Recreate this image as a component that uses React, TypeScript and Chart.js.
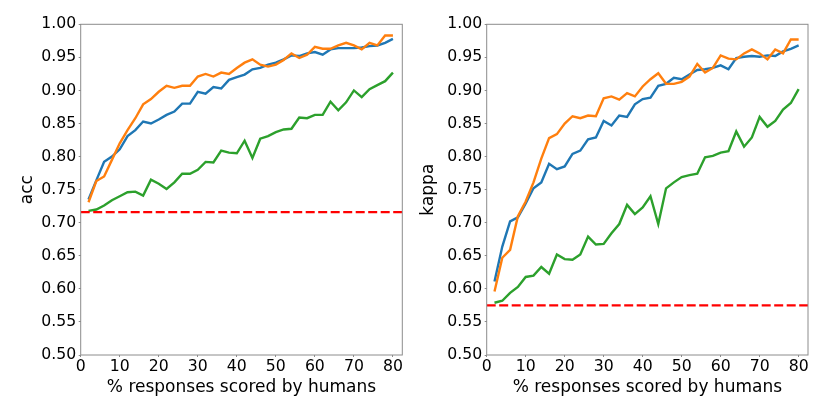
import { useEffect, useRef } from "react"
import { Chart, registerables } from "chart.js"

Chart.register(...registerables)

// % of responses scored by humans
const xValues = [
  2, 4, 6, 8, 10, 12, 14, 16, 18, 20, 22, 24, 26, 28, 30, 32, 34, 36, 38, 40,
  42, 44, 46, 48, 50, 52, 54, 56, 58, 60, 62, 64, 66, 68, 70, 72, 74, 76, 78, 80,
]
const xTicks = [0, 10, 20, 30, 40, 50, 60, 70, 80]

const accBlue = [
  0.735, 0.764, 0.792, 0.8, 0.811, 0.831, 0.84, 0.853, 0.85, 0.856, 0.863, 0.868, 0.88, 0.88, 0.898, 0.895, 0.905, 0.903, 0.916, 0.92,
  0.924, 0.932, 0.934, 0.939, 0.942, 0.947, 0.953, 0.952, 0.956, 0.958, 0.954, 0.962, 0.964, 0.964, 0.964, 0.965, 0.967, 0.968, 0.972, 0.978,
]
const accOrange = [
  0.731, 0.763, 0.77, 0.795, 0.82, 0.84, 0.858, 0.879, 0.887, 0.898, 0.907, 0.904, 0.907, 0.907, 0.921, 0.925, 0.921, 0.927, 0.925, 0.934,
  0.942, 0.947, 0.939, 0.936, 0.939, 0.946, 0.956, 0.949, 0.954, 0.966, 0.963, 0.963, 0.968, 0.972, 0.968, 0.962, 0.972, 0.968, 0.983, 0.983,
]
const accGreen = [
  0.718, 0.72, 0.726, 0.734, 0.74, 0.746, 0.747, 0.741, 0.765, 0.759, 0.751, 0.761, 0.774, 0.774, 0.78, 0.792, 0.791, 0.809, 0.806, 0.805,
  0.824, 0.798, 0.827, 0.831, 0.837, 0.841, 0.842, 0.859, 0.858, 0.863, 0.863, 0.883, 0.87, 0.882, 0.9, 0.89, 0.902, 0.908, 0.914, 0.927,
]
const accBaseline = 0.716

const kappaBlue = [
  0.611, 0.664, 0.702, 0.708, 0.729, 0.752, 0.761, 0.789, 0.781, 0.785, 0.804, 0.809, 0.826, 0.829, 0.854, 0.847, 0.862, 0.86, 0.879, 0.887,
  0.889, 0.907, 0.91, 0.919, 0.917, 0.924, 0.931, 0.932, 0.934, 0.938, 0.932, 0.949, 0.951, 0.952, 0.951, 0.953, 0.952, 0.959, 0.963, 0.968,
]
const kappaOrange = [
  0.596, 0.647, 0.659, 0.71, 0.732, 0.761, 0.797, 0.828, 0.834, 0.85, 0.861, 0.858, 0.862, 0.861, 0.888, 0.891, 0.886, 0.896, 0.891, 0.906,
  0.917, 0.926, 0.91, 0.91, 0.913, 0.921, 0.94, 0.927, 0.934, 0.953, 0.948, 0.947, 0.956, 0.962, 0.956, 0.947, 0.962, 0.956, 0.977, 0.977,
]
const kappaGreen = [
  0.579, 0.582, 0.594, 0.603, 0.618, 0.62, 0.633, 0.623, 0.652, 0.645, 0.644, 0.652, 0.679, 0.667, 0.668, 0.684, 0.698, 0.727, 0.713, 0.723,
  0.74, 0.698, 0.752, 0.761, 0.769, 0.772, 0.774, 0.799, 0.801, 0.806, 0.808, 0.838, 0.815, 0.829, 0.86, 0.845, 0.854, 0.871, 0.881, 0.902,
]
const kappaBaseline = 0.575

const X_MIN = 0
const X_MAX = 82.4
const Y_MIN = 0.5
const Y_MAX = 1.0
const FONT = "'DejaVu Sans', sans-serif"

// matplotlib-style box around the plot area
const framePlugin = {
  id: "frame",
  afterDatasetsDraw(chart: Chart) {
    const { ctx, chartArea } = chart
    ctx.save()
    ctx.strokeStyle = "#8c8c8c"
    ctx.lineWidth = 1
    ctx.strokeRect(chartArea.left, chartArea.top, chartArea.right - chartArea.left, chartArea.bottom - chartArea.top)
    ctx.restore()
  },
}

interface PanelProps {
  yLabel: string
  blue: number[]
  orange: number[]
  green: number[]
  baseline: number
  padLeft: number
  padRight: number
  yAxisWidth: number
}

function Panel({ yLabel, blue, orange, green, baseline, padLeft, padRight, yAxisWidth }: PanelProps) {
  const chartRef = useRef<HTMLCanvasElement>(null)
  const chartInstance = useRef<Chart | null>(null)

  useEffect(() => {
    if (!chartRef.current) return
    const ctx = chartRef.current.getContext("2d")
    if (!ctx) return

    const toPoints = (vals: number[]) => vals.map((y, i) => ({ x: xValues[i], y }))
    const line = (data: { x: number; y: number }[], color: string, order: number) => ({
      data,
      borderColor: color,
      backgroundColor: color,
      borderWidth: 2.4,
      pointRadius: 0,
      tension: 0,
      fill: false,
      order,
    })

    chartInstance.current = new Chart(ctx, {
      type: "line",
      data: {
        datasets: [
          line(toPoints(blue), "#1f77b4", 4),
          line(toPoints(orange), "#ff7f0e", 3),
          line(toPoints(green), "#2ca02c", 2),
          {
            ...line(
              [
                { x: X_MIN, y: baseline },
                { x: X_MAX, y: baseline },
              ],
              "#ff0000",
              1,
            ),
            borderDash: [9, 3.5],
          },
        ],
      },
      plugins: [framePlugin],
      options: {
        animation: false,
        responsive: true,
        maintainAspectRatio: false,
        layout: { padding: { left: padLeft, right: padRight, top: 24.3, bottom: 17.1 } },
        plugins: { legend: { display: false }, tooltip: { enabled: false } },
        scales: {
          x: {
            type: "linear",
            min: X_MIN,
            max: X_MAX,
            border: { display: false },
            grid: { display: true, drawOnChartArea: false, drawTicks: true, tickLength: 2, color: "#8c8c8c" },
            ticks: { autoSkip: false, maxRotation: 0, padding: 1, color: "#000", font: { family: FONT, size: 15.7 } },
            afterBuildTicks: (scale: any) => {
              scale.ticks = xTicks.map((value) => ({ value }))
            },
            afterFit: (scale: any) => {
              scale.height = 42.9
            },
            title: {
              display: true,
              text: "% responses scored by humans",
              color: "#000",
              padding: 0,
              font: { family: FONT, size: 17 },
            },
          },
          y: {
            min: Y_MIN,
            max: Y_MAX,
            border: { display: false },
            grid: { display: true, drawOnChartArea: false, drawTicks: true, tickLength: 2, color: "#8c8c8c" },
            ticks: {
              stepSize: 0.05,
              padding: 2.5,
              color: "#000",
              font: { family: FONT, size: 15.7 },
              callback: (v: any) => Number(v).toFixed(2),
            },
            afterFit: (scale: any) => {
              scale.width = yAxisWidth
            },
            title: {
              display: true,
              text: yLabel,
              color: "#000",
              padding: 0,
              font: { family: FONT, size: 17 },
            },
          },
        },
      },
    })

    return () => {
      if (chartInstance.current) {
        chartInstance.current.destroy()
        chartInstance.current = null
      }
    }
  }, [yLabel, blue, orange, green, baseline, padLeft, padRight, yAxisWidth])

  return (
    <div style={{ width: 415, height: 415, position: "relative" }}>
      <canvas ref={chartRef}></canvas>
    </div>
  )
}

export default function App() {
  return (
    <div style={{ position: "fixed", left: 0, top: 0, width: 830, height: 415, display: "flex", background: "#fff" }}>
      <Panel yLabel="acc" blue={accBlue} orange={accOrange} green={accGreen} baseline={accBaseline} padLeft={17} padRight={12.7} yAxisWidth={63.7} />
      <Panel yLabel="kappa" blue={kappaBlue} orange={kappaOrange} green={kappaGreen} baseline={kappaBaseline} padLeft={3.6} padRight={22} yAxisWidth={68.1} />
    </div>
  )
}
